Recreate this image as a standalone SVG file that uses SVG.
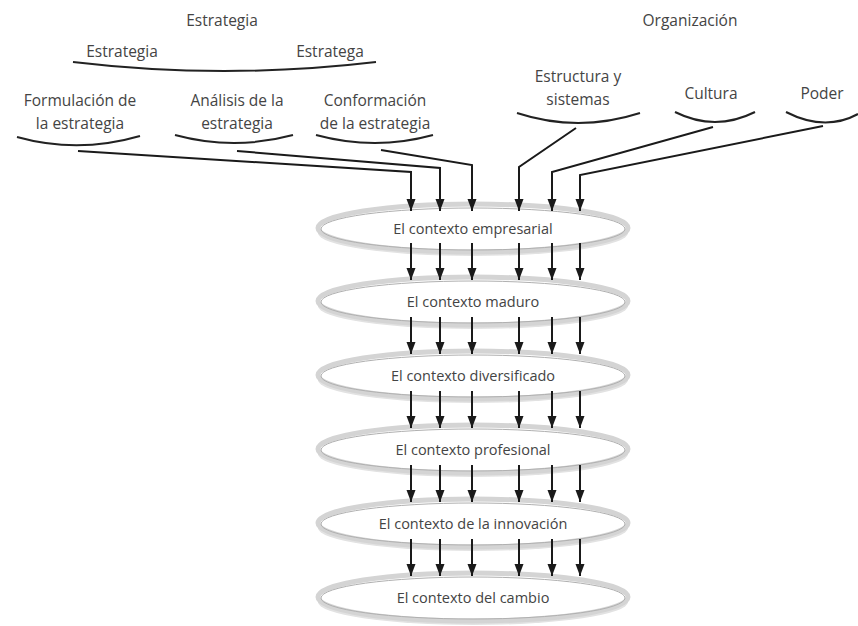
<svg xmlns="http://www.w3.org/2000/svg" width="858" height="626" viewBox="0 0 858 626">
  <defs>
    <marker id="arrow" markerUnits="userSpaceOnUse" markerWidth="12" markerHeight="10" refX="12" refY="4.5" orient="auto">
      <path d="M0,0 L12,4.5 L0,9 z" fill="#1a1a1a"/>
    </marker>
    <style>
      .lbl { font-family: "Open Sans", "Noto Sans", "Liberation Sans", sans-serif; font-size: 15.5px; fill: #444; text-anchor: middle; }
      .ctx { font-size: 14.5px; }
      .brace { fill: none; stroke: #222; stroke-width: 2; }
      .conn { fill: none; stroke: #1a1a1a; stroke-width: 2; marker-end: url(#arrow); }
      .disk-shadow { fill: #e2e2e2; stroke: none; }
      .disk { fill: #fff; stroke: #d4d4d4; stroke-width: 5; }
      .disk-edge { fill: none; stroke: #b0b0b0; stroke-width: 1; }
    </style>
  </defs>
  <rect width="858" height="626" fill="#fff"/>

  <!-- Strategy heading and its two facets -->
  <g id="estrategia">
    <text class="lbl" x="222" y="26">Estrategia</text>
    <text class="lbl" x="122" y="57">Estrategia</text>
    <text class="lbl" x="330" y="57">Estratega</text>
    <path class="brace" d="M73,62 Q224,80 376,62"/>
  </g>
  <g id="formulacion">
    <text class="lbl" x="80" y="106">Formulación de</text>
    <text class="lbl" x="80" y="129">la estrategia</text>
    <path class="brace" d="M17,137 Q78,154 140,136"/>
  </g>
  <g id="analisis">
    <text class="lbl" x="237" y="106">Análisis de la</text>
    <text class="lbl" x="237" y="129">estrategia</text>
    <path class="brace" d="M175,135 Q234,151 293,135"/>
  </g>
  <g id="conformacion">
    <text class="lbl" x="375" y="106">Conformación</text>
    <text class="lbl" x="375" y="129">de la estrategia</text>
    <path class="brace" d="M316,135 Q375,151 433,135"/>
  </g>

  <!-- Organization heading and its three facets -->
  <g id="organizacion">
    <text class="lbl" x="690" y="26">Organización</text>
  </g>
  <g id="estructura">
    <text class="lbl" x="578" y="82">Estructura y</text>
    <text class="lbl" x="578" y="105">sistemas</text>
    <path class="brace" d="M517,113 Q578,133 640,113"/>
  </g>
  <g id="cultura">
    <text class="lbl" x="711" y="99">Cultura</text>
    <path class="brace" d="M675,112 Q715,132 755,112"/>
  </g>
  <g id="poder">
    <text class="lbl" x="822" y="99">Poder</text>
    <path class="brace" d="M786,112 Q825,132 858,114"/>
  </g>

  <!-- Stack of contexts, drawn bottom-up so each disk sits over the one below -->
  <g id="ctx-cambio">
    <ellipse class="disk-shadow" cx="473" cy="602" rx="155" ry="23"/>
    <ellipse class="disk" cx="473" cy="597" rx="155" ry="24"/>
    <ellipse class="disk-edge" cx="473" cy="598" rx="152" ry="21"/>
    <text class="lbl ctx" x="473" y="603">El contexto del cambio</text>
  </g>
  <g id="ctx-innovacion">
    <ellipse class="disk-shadow" cx="473" cy="528" rx="155" ry="23"/>
    <ellipse class="disk" cx="473" cy="523" rx="155" ry="24"/>
    <ellipse class="disk-edge" cx="473" cy="524" rx="152" ry="21"/>
    <text class="lbl ctx" x="473" y="529">El contexto de la innovación</text>
  </g>
  <g id="ctx-profesional">
    <ellipse class="disk-shadow" cx="473" cy="454" rx="155" ry="23"/>
    <ellipse class="disk" cx="473" cy="449" rx="155" ry="24"/>
    <ellipse class="disk-edge" cx="473" cy="450" rx="152" ry="21"/>
    <text class="lbl ctx" x="473" y="455">El contexto profesional</text>
  </g>
  <g id="ctx-diversificado">
    <ellipse class="disk-shadow" cx="473" cy="380" rx="155" ry="23"/>
    <ellipse class="disk" cx="473" cy="375" rx="155" ry="24"/>
    <ellipse class="disk-edge" cx="473" cy="376" rx="152" ry="21"/>
    <text class="lbl ctx" x="473" y="381">El contexto diversificado</text>
  </g>
  <g id="ctx-maduro">
    <ellipse class="disk-shadow" cx="473" cy="306" rx="155" ry="23"/>
    <ellipse class="disk" cx="473" cy="301" rx="155" ry="24"/>
    <ellipse class="disk-edge" cx="473" cy="302" rx="152" ry="21"/>
    <text class="lbl ctx" x="473" y="307">El contexto maduro</text>
  </g>
  <g id="ctx-empresarial">
    <ellipse class="disk-shadow" cx="473" cy="233" rx="155" ry="23"/>
    <ellipse class="disk" cx="473" cy="228" rx="155" ry="24"/>
    <ellipse class="disk-edge" cx="473" cy="229" rx="152" ry="21"/>
    <text class="lbl ctx" x="473" y="234">El contexto empresarial</text>
  </g>

  <!-- Connectors -->
  <g id="connectors">
    <!-- from the facets into the first context -->
    <path class="conn" d="M78,151 L411,172 L411,211"/>
    <path class="conn" d="M237,151 L440,168 L440,211"/>
    <path class="conn" d="M381,150 L472,165 L472,211"/>
    <path class="conn" d="M576,128 L519,167 L519,211"/>
    <path class="conn" d="M713,127 L552,172 L552,211"/>
    <path class="conn" d="M823,126 L580,175 L580,211"/>

    <!-- between consecutive contexts -->
    <g id="ctx-links">
      <path class="conn" d="M411,243 V280"/><path class="conn" d="M440,243 V280"/><path class="conn" d="M472,243 V280"/>
      <path class="conn" d="M519,243 V280"/><path class="conn" d="M552,243 V280"/><path class="conn" d="M580,243 V280"/>

      <path class="conn" d="M411,317 V354"/><path class="conn" d="M440,317 V354"/><path class="conn" d="M472,317 V354"/>
      <path class="conn" d="M519,317 V354"/><path class="conn" d="M552,317 V354"/><path class="conn" d="M580,317 V354"/>

      <path class="conn" d="M411,391 V428"/><path class="conn" d="M440,391 V428"/><path class="conn" d="M472,391 V428"/>
      <path class="conn" d="M519,391 V428"/><path class="conn" d="M552,391 V428"/><path class="conn" d="M580,391 V428"/>

      <path class="conn" d="M411,465 V502"/><path class="conn" d="M440,465 V502"/><path class="conn" d="M472,465 V502"/>
      <path class="conn" d="M519,465 V502"/><path class="conn" d="M552,465 V502"/><path class="conn" d="M580,465 V502"/>

      <path class="conn" d="M411,539 V576"/><path class="conn" d="M440,539 V576"/><path class="conn" d="M472,539 V576"/>
      <path class="conn" d="M519,539 V576"/><path class="conn" d="M552,539 V576"/><path class="conn" d="M580,539 V576"/>
    </g>
  </g>
</svg>
